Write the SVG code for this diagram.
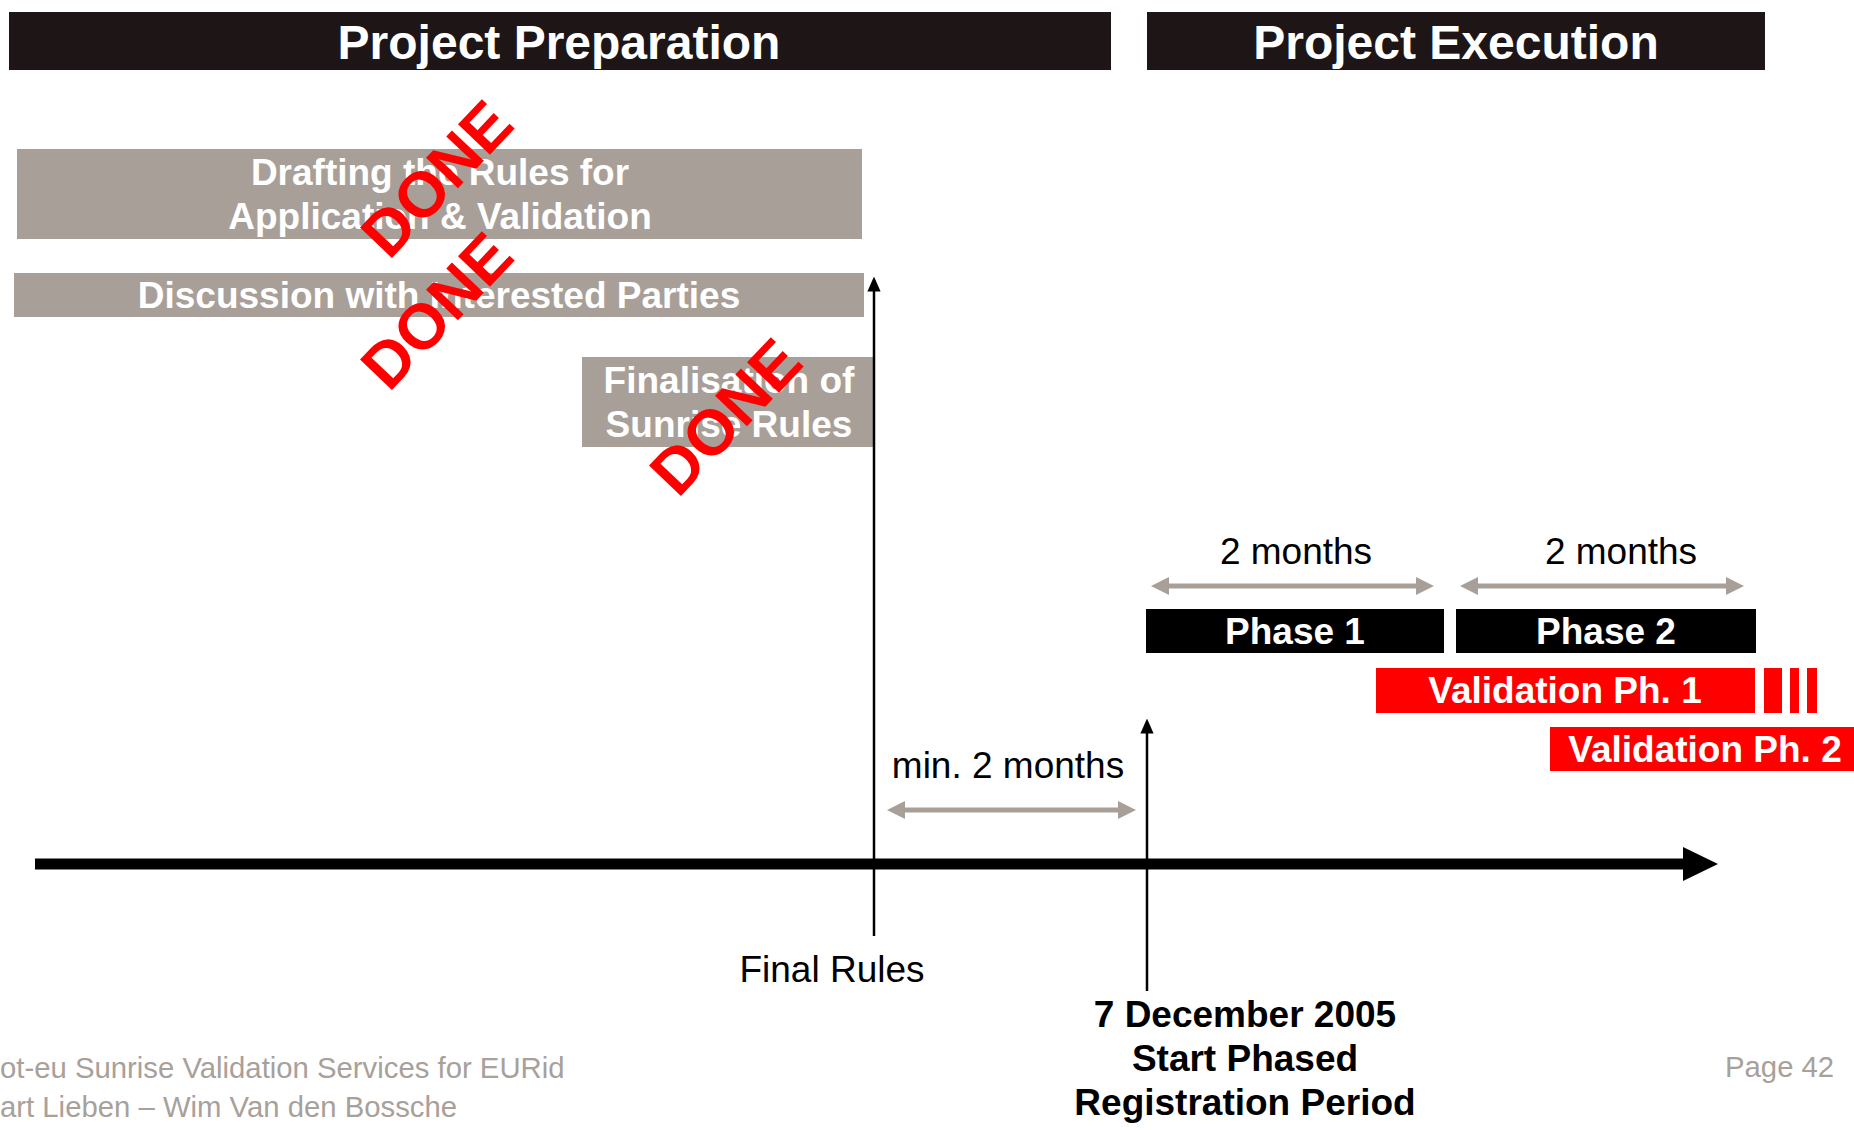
<svg xmlns="http://www.w3.org/2000/svg" width="1854" height="1130" viewBox="0 0 1854 1130">
<style>
text{font-family:"Liberation Sans",Arial,sans-serif}
.hdr{fill:#1e1517}
.hdrt{fill:#fff;font-weight:bold;font-size:48px;text-anchor:middle}
.gbox{fill:#a89f99}
.gt{fill:#fff;font-weight:bold;font-size:37px;text-anchor:middle}
.bbox{fill:#000}
.rbox{fill:#ff0000}
.lbl{fill:#000;font-size:37px;text-anchor:middle}
.blbl{fill:#000;font-size:37px;font-weight:bold;text-anchor:middle}
.done{fill:#ff0000;font-weight:bold;font-size:64px}
.foot{fill:#a8a09a;font-size:29.3px}
.garrow{stroke:#a89f99;stroke-width:5;fill:none;marker-start:url(#gh);marker-end:url(#gh)}
.varrow{stroke:#000;stroke-width:2.5;fill:none;marker-end:url(#bh)}
</style>
<defs>
<marker id="gh" markerUnits="userSpaceOnUse" markerWidth="18" markerHeight="18" refX="8" refY="9" orient="auto-start-reverse" viewBox="0 0 18 18">
<path d="M0,0 L18,9 L0,18 z" fill="#a89f99"/>
</marker>
<marker id="bh" markerUnits="userSpaceOnUse" markerWidth="15" markerHeight="17" refX="4" refY="7.5" orient="auto" viewBox="0 0 17 15">
<path d="M0,0 L17,7.5 L0,15 z" fill="#000"/>
</marker>
</defs>

<g id="header-preparation">
<rect class="hdr" x="9" y="12" width="1102" height="58"/>
<text class="hdrt" x="559" y="59">Project Preparation</text>
</g>
<g id="header-execution">
<rect class="hdr" x="1147" y="12" width="618" height="58"/>
<text class="hdrt" x="1456" y="59">Project Execution</text>
</g>

<g id="drafting">
<rect class="gbox" x="17" y="149" width="845" height="90"/>
<text class="gt" x="440" y="185">Drafting the Rules for</text>
<text class="gt" x="440" y="229">Application &amp; Validation</text>
</g>
<g id="discussion">
<rect class="gbox" x="14" y="273" width="850" height="44"/>
<text class="gt" x="439" y="308">Discussion with Interested Parties</text>
</g>
<g id="finalisation">
<rect class="gbox" x="582" y="357" width="293" height="90"/>
<text class="gt" x="729" y="393">Finalisation of</text>
<text class="gt" x="729" y="437">Sunrise Rules</text>
</g>

<g id="phase1">
<rect class="bbox" x="1146" y="609" width="298" height="44"/>
<text class="gt" x="1295" y="644">Phase 1</text>
</g>
<g id="phase2">
<rect class="bbox" x="1456" y="609" width="300" height="44"/>
<text class="gt" x="1606" y="644">Phase 2</text>
</g>
<g id="validation1">
<rect class="rbox" x="1376" y="668" width="379" height="45"/>
<rect class="rbox" x="1764" y="668" width="18" height="45"/>
<rect class="rbox" x="1790" y="668" width="9" height="45"/>
<rect class="rbox" x="1807" y="668" width="10" height="45"/>
<text class="gt" x="1565" y="703">Validation Ph. 1</text>
</g>
<g id="validation2">
<rect class="rbox" x="1550" y="727" width="304" height="44"/>
<text class="gt" x="1705" y="762">Validation Ph. 2</text>
</g>

<g id="connectors">
<line x1="35" y1="864" x2="1684" y2="864" stroke="#000" stroke-width="11"/>
<polygon points="1683,847 1718,864 1683,881" fill="#000"/>
<line class="varrow" x1="874" y1="936" x2="874" y2="288"/>
<line class="varrow" x1="1147" y1="991" x2="1147" y2="730"/>
<line class="garrow" x1="897" y1="810" x2="1126" y2="810"/>
<line class="garrow" x1="1161" y1="586" x2="1424" y2="586"/>
<line class="garrow" x1="1470" y1="586" x2="1734" y2="586"/>
</g>

<g id="labels">
<text class="lbl" x="1296" y="564">2 months</text>
<text class="lbl" x="1621" y="564">2 months</text>
<text class="lbl" x="1008" y="778">min. 2 months</text>
<text class="lbl" x="832" y="982">Final Rules</text>
<text class="blbl" x="1245" y="1027">7 December 2005</text>
<text class="blbl" x="1245" y="1071">Start Phased</text>
<text class="blbl" x="1245" y="1115">Registration Period</text>
</g>

<g id="stamps">
<text class="done" x="389" y="261" transform="rotate(-46.5 389 261)">DONE</text>
<text class="done" x="389" y="393" transform="rotate(-46.5 389 393)">DONE</text>
<text class="done" x="678" y="499" transform="rotate(-46.5 678 499)">DONE</text>
</g>

<g id="footer">
<text class="foot" x="0" y="1078">ot-eu Sunrise Validation Services for EURid</text>
<text class="foot" x="0" y="1117">art Lieben – Wim Van den Bossche</text>
<text class="foot" x="1725" y="1077">Page 42</text>
</g>
</svg>
